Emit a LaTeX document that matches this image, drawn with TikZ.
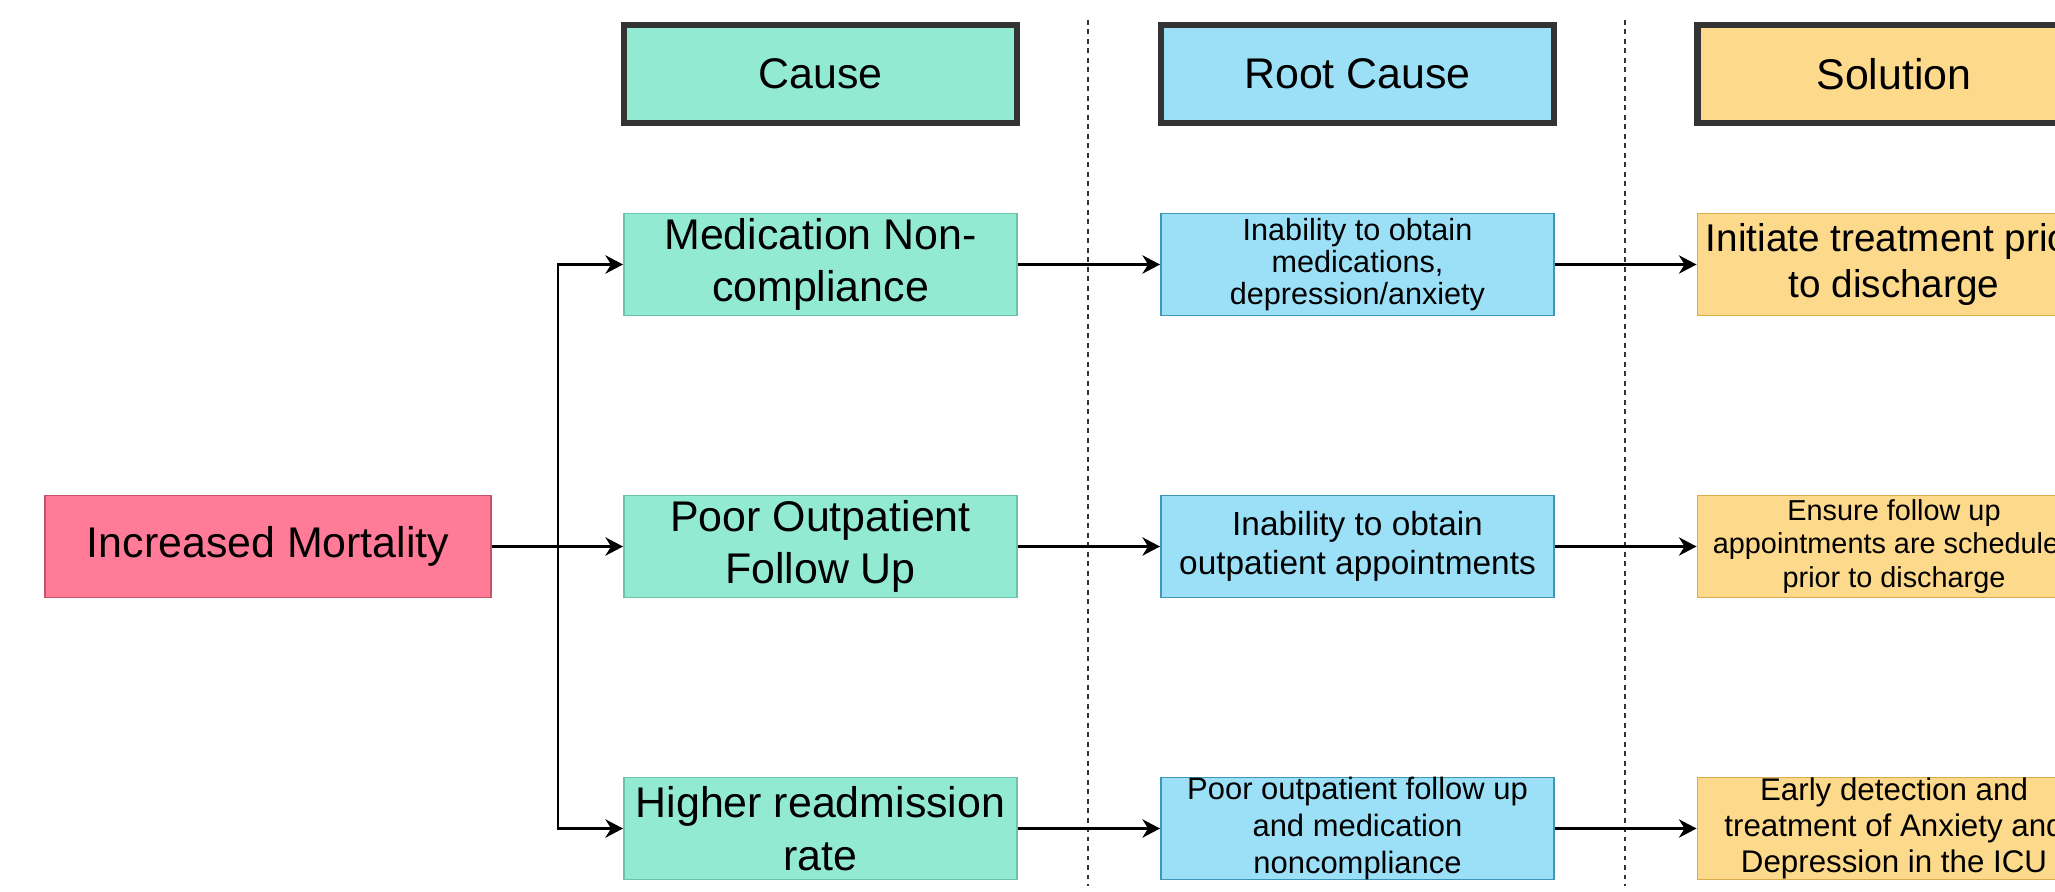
\documentclass[tikz,border=0pt]{standalone}
\usepackage{fontspec}
\setmainfont{Liberation Sans}
\usetikzlibrary{arrows.meta}
\definecolor{gfill}{HTML}{93EAD3}
\definecolor{gline}{HTML}{6CC3AA}
\definecolor{bfill}{HTML}{9CE0F8}
\definecolor{bline}{HTML}{3E97B8}
\definecolor{yfill}{HTML}{FDD98B}
\definecolor{yline}{HTML}{D8AC4C}
\definecolor{pfill}{HTML}{FF7B98}
\definecolor{pline}{HTML}{C7526C}
\definecolor{dark}{HTML}{333333}
\begin{document}
\begin{tikzpicture}[x=0.01cm,y=-0.01cm,
  box/.style={rectangle, minimum width=3.93cm, minimum height=1.02cm, inner sep=0pt, align=center, line width=0.5pt},
  causebox/.style={box, fill=gfill, draw=gline, font=\fontsize{12.2}{15}\selectfont},
  rootbox/.style={box, fill=bfill, draw=bline},
  solbox/.style={box, fill=yfill, draw=yline},
  headbox/.style={box, minimum height=0.98cm, draw=dark, line width=1.8pt, font=\fontsize{12.2}{15}\selectfont},
  arr/.style={draw=black, line width=0.75pt, -{Stealth[length=5pt,width=5.2pt,inset=1.6pt]}},
  divider/.style={draw=dark, line width=0.6pt, dash pattern=on 1.4pt off 1.3pt}]
\clip (0,0) rectangle (2055,891);
\fill[white] (0,0) rectangle (2055,891);
% dividers
\coordinate (d1t) at (1088,20);
\coordinate (d1b) at (1088,886);
\coordinate (d2t) at (1625,20);
\coordinate (d2b) at (1625,886);
\draw[divider] (d1t) -- (d1b);
\draw[divider] (d2t) -- (d2b);
% headers
\node[headbox, fill=gfill] (hcause) at (820.5,74) {Cause};
\node[headbox, fill=bfill] (hroot) at (1357.5,74) {Root Cause};
\node[headbox, fill=yfill] (hsol) at (1894,74) {Solution};
% start
\node[box, fill=pfill, draw=pline, minimum width=4.46cm, font=\fontsize{12.2}{15}\selectfont] (mort) at (268,546.5) {Increased Mortality};
% causes
\node[causebox] (med) at (820.5,264.5) {Medication Non-\\compliance};
\node[causebox] (poor) at (820.5,546.5) {Poor Outpatient\\Follow Up};
\node[causebox] (high) at (820.5,828.5) {Higher readmission\\rate};
% root causes
\node[rootbox, font=\fontsize{8.7}{9.2}\selectfont] (rmed) at (1357.5,264.5) {Inability to obtain\\medications,\\depression/anxiety};
\node[rootbox, font=\fontsize{9.5}{11.2}\selectfont] (rpoor) at (1357.5,546.5) {Inability to obtain\\outpatient appointments};
\node[rootbox, font=\fontsize{8.8}{10.4}\selectfont] (rhigh) at (1357.5,828.5) {Poor outpatient follow up\\and medication\\noncompliance};
% solutions
\node[solbox, font=\fontsize{11}{13.1}\selectfont] (smed) at (1894,264.5) {Initiate treatment prior\\to discharge};
\node[solbox, font=\fontsize{8.2}{9.4}\selectfont] (spoor) at (1894,546.5) {Ensure follow up\\appointments are scheduled\\prior to discharge};
\node[solbox, font=\fontsize{8.9}{10.3}\selectfont] (shigh) at (1894,828.5) {Early detection and\\treatment of Anxiety and\\Depression in the ICU};
% connectors
\coordinate (br) at (558,546.5);
\draw[arr] (mort.east) -- (poor.west);
\draw[arr] (br) |- (med.west);
\draw[arr] (br) |- (high.west);
\draw[arr] (med.east) -- (rmed.west);
\draw[arr] (poor.east) -- (rpoor.west);
\draw[arr] (high.east) -- (rhigh.west);
\draw[arr] (rmed.east) -- (smed.west);
\draw[arr] (rpoor.east) -- (spoor.west);
\draw[arr] (rhigh.east) -- (shigh.west);
\end{tikzpicture}
\end{document}
